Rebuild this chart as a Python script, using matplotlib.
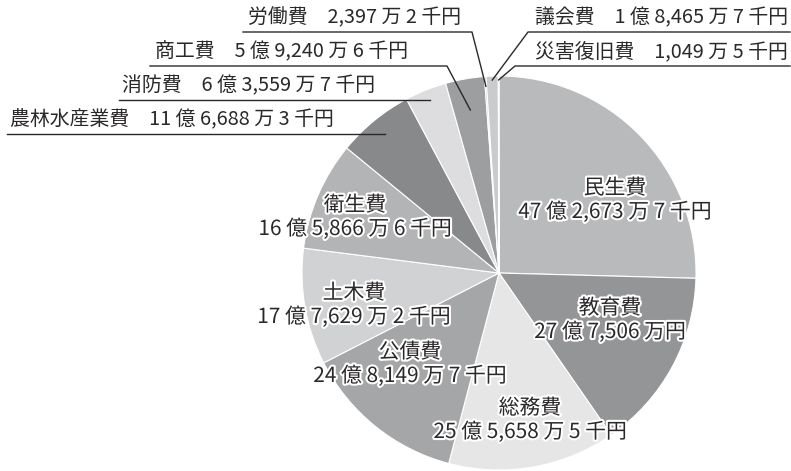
import numpy as np
import matplotlib.pyplot as plt
import matplotlib.patheffects as pe

plt.rcParams['font.family'] = ['Noto Sans CJK JP', 'DejaVu Sans']

# 費目 (clockwise from 12 o'clock) and amounts in 千円
names = ['民生費', '教育費', '総務費', '公債費', '土木費', '衛生費',
         '農林水産業費', '消防費', '商工費', '労働費', '議会費', '災害復旧費']
amounts = [4726737, 2775060, 2556585, 2481497, 1776292, 1658666,
           1166883, 635597, 592406, 23972, 184657, 10495]
colors = ['#b9babc', '#949597', '#e6e6e7', '#a5a6a8', '#d1d2d3', '#b3b4b6',
          '#88898b', '#dddddf', '#9d9ea0', '#a3a4a6', '#cacbcc', '#6e6f71']

W, H = 791, 471
cx, cy, r = 499, H - 273, 197
ink = '#2b2829'


def fmt(v):
    oku, man, sen = v // 100000, (v % 100000) // 10, v % 10
    s = f'{oku} 億 ' if oku else ''
    s += f'{man:,} 万'
    s += f' {sen} 千円' if sen else '円'
    return s


fig = plt.figure(figsize=(W / 100, H / 100), dpi=100)
ax = fig.add_axes([0, 0, 1, 1])
ax.pie(amounts, colors=colors, startangle=90, counterclock=False,
       center=(cx, cy), radius=r,
       wedgeprops=dict(edgecolor='white', linewidth=0.8))
ax.set_xlim(0, W)
ax.set_ylim(0, H)
ax.set_aspect('equal')
ax.axis('off')

# mid angle of every slice, degrees clockwise from top
frac = np.cumsum(amounts) / sum(amounts)
mids = dict(zip(names, 360 * (frac - np.array(amounts) / sum(amounts) / 2)))

# labels inside the pie (image coords of centre)
inner = {'民生費': (615, 188), '教育費': (610, 308), '総務費': (530, 408),
         '公債費': (410, 352), '土木費': (354, 293), '衛生費': (355, 205)}
stroke = [pe.withStroke(linewidth=3, foreground='white')]
for n, (x, y) in inner.items():
    v = amounts[names.index(n)]
    ax.text(x, H - y, n, ha='center', va='center', fontsize=15,
            color=ink, path_effects=stroke)
    ax.text(x, H - y - 24, fmt(v), ha='center', va='center', fontsize=15,
            color=ink, path_effects=stroke)

# labels outside with leader lines: text x, line y, line start, knee x, radius fraction
outer = {'労働費': (248, 32, 243, 472, 0.95),
         '商工費': (155, 66, 150, 447, 0.84),
         '消防費': (122, 100, 119, None, None),
         '農林水産業費': (10, 134, 7, None, None),
         '議会費': (535, 32, 790, 528, 0.98),
         '災害復旧費': (535, 66, 790, 515, 0.98)}
for n, (tx, ly, x0, kx, rf) in outer.items():
    v = amounts[names.index(n)]
    ax.text(tx, H - ly + 14, n + '\u3000' + fmt(v), ha='left', va='center',
            fontsize=14.3, color=ink)
    a = np.radians(mids[n])
    if kx is None:
        # run the underline straight into the slice
        ex = cx + (H - ly - cy) * np.tan(a)
        xs, ys = [x0, ex], [H - ly, H - ly]
    else:
        ex, ey = cx + rf * r * np.sin(a), cy + rf * r * np.cos(a)
        xs, ys = [x0, kx, ex], [H - ly, H - ly, ey]
    ax.plot(xs, ys, color=ink, linewidth=1)

fig.savefig('out.png', dpi=100)
